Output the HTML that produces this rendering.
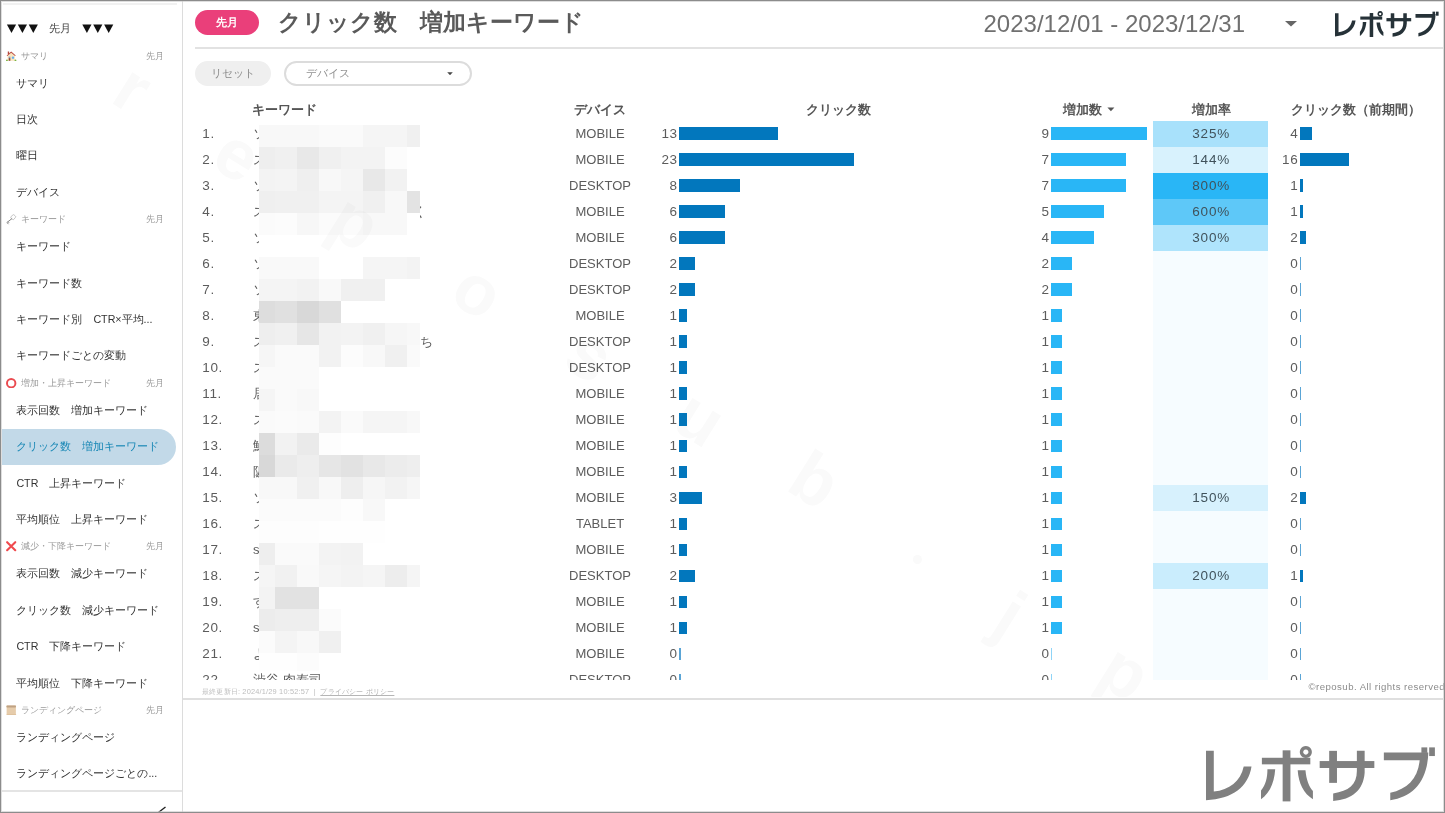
<!DOCTYPE html>
<html lang="ja"><head><meta charset="utf-8"><title>クリック数 増加キーワード</title>
<style>
*{box-sizing:border-box;margin:0;padding:0}
html,body{width:1445px;height:813px;overflow:hidden;background:#fff}
body{font-family:"Liberation Sans",sans-serif;position:relative;color:#555}
#frame{position:absolute;left:0;top:0;width:1445px;height:813px;border:1.5px solid #8c8c8c;z-index:50;pointer-events:none;box-shadow:inset 0 0 0 1px rgba(200,200,200,.6)}
.abs,.r,.r>*,.sh,.ni,.wm,#mos i{position:absolute}
/* sidebar */
#side{position:absolute;left:0;top:0;width:183px;height:813px;border-right:1px solid #dcdcdc;background:#fff;overflow:hidden}
#topline{position:absolute;left:3px;top:3px;width:174px;height:2px;background:#f1f1f1}
#tri{position:absolute;left:0;top:0}
#tm{position:absolute;left:49px;top:21px;font-size:10.8px;line-height:15px;color:#444;white-space:nowrap}
.sh{left:0;width:183px;height:18px;font-size:8.6px;line-height:18px;color:#9a9a9a;white-space:nowrap}
.sh .ic{position:absolute;left:6.4px;top:4.2px;width:10.4px;height:10.4px}
.sh .st{position:absolute;left:21.3px;top:0}
.sh .sm{position:absolute;right:19.5px;top:0}
.ni{left:2px;width:174px;height:36.4px;font-size:10.7px;line-height:36.4px;color:#333;white-space:nowrap;border-radius:0 18.2px 18.2px 0}
.ni span{position:absolute;left:14.4px;top:0}
.ni.sel{background:#c2d9e8;color:#1787b5}
#sbline{position:absolute;left:2px;top:790px;width:181px;height:1.5px;background:#e4e4e4}
/* header */
#pill{left:195px;top:10.2px;width:63.5px;height:25px;border-radius:12.5px;background:#ea3f7a;color:#fff;font-size:11px;font-weight:bold;line-height:25px;text-align:center}
#title{left:278.2px;top:6.5px;font-size:23.4px;line-height:30px;color:#5a5a5a;font-weight:bold;white-space:nowrap;letter-spacing:0}
#date{left:983.5px;top:9px;font-size:24px;line-height:30px;color:#707070;white-space:nowrap}
#hline{left:195px;top:47.3px;width:1248px;height:1.6px;background:#e2e2e2}
#reset{left:195px;top:60.8px;width:76px;height:25px;border-radius:12.5px;background:#efefef;color:#8a8a8a;font-size:10.9px;line-height:25px;text-align:center}
#dd{left:284.4px;top:60.5px;width:188px;height:25.4px;border-radius:12.7px;border:2px solid #dcdcdc;background:#fff;color:#909090;font-size:10.9px;line-height:21.4px;padding-left:19.8px}
/* table */
.th{position:absolute;top:101px;width:200px;text-align:center;font-size:12.6px;line-height:18px;font-weight:bold;color:#555;white-space:nowrap}
#tbl{position:absolute;left:183px;top:0;width:1262px;height:679.5px;overflow:hidden}
#tbl .in{position:absolute;left:-183px;top:0;width:1445px;height:813px}
.r{left:0;width:1445px;height:26px;font-size:13px;line-height:26px;color:#5c5c5c}
.r>*{top:0;height:26px;white-space:nowrap}
.n{left:202.3px;font-size:13.5px;letter-spacing:.6px}
.k{left:253px}
.k2{position:absolute;overflow:hidden;height:26px;line-height:26px;font-size:13px;color:#5c5c5c;white-space:nowrap}
.d{left:540px;width:120px;text-align:center}
.v{text-align:right;width:40px;font-size:13.5px;letter-spacing:.6px;margin-left:.6px}
.v1{left:637px} .v2{left:1009px} .v3{left:1257.7px}
.b{top:6.6px !important;height:12.5px !important;display:block}
.b1{left:679.4px;background:#0277bd}
.b2{left:1050.9px;background:#29b6f6}
.b3{left:1299.8px;background:#0277bd}
.b.z{background:#5aa5d6} .b.z2{background:#8fd4f7}
.h{left:1153.2px;width:115.1px;text-align:center;color:#40525b;font-size:13.5px;letter-spacing:.8px;text-indent:.8px}
#mos i{display:block}
.wm{font-size:70px;font-weight:bold;color:#fafafa;width:60px;height:80px;line-height:80px;text-align:center;transform:rotate(32deg)}
#foot{left:202px;top:686.3px;letter-spacing:.18px;font-size:7.4px;line-height:12px;color:#bdbdbd;white-space:nowrap}
#foot u{color:#b5b5b5}
#copy{left:1308.6px;top:680.2px;font-size:9.6px;line-height:13px;color:#8c8c8c;white-space:nowrap;letter-spacing:.45px}
#bline{left:183px;top:698.1px;width:1260px;height:1.8px;background:#dfdfdf}
</style></head><body>
<div id="wmwrap" class="abs" style="left:0;top:0;width:1445px;height:697px;overflow:hidden;z-index:20;mix-blend-mode:multiply;pointer-events:none">
<span class="wm" style="left:103px;top:48px">r</span>
<span class="wm" style="left:208px;top:115px">e</span>
<span class="wm" style="left:325px;top:182px">p</span>
<span class="wm" style="left:448px;top:251px">o</span>
<span class="wm" style="left:560px;top:315px">s</span>
<span class="wm" style="left:670px;top:378px">u</span>
<span class="wm" style="left:785px;top:440px">b</span>
<i class="abs" style="left:912.5px;top:555px;width:9px;height:9px;border-radius:50%;background:#fafafa"></i>
<span class="wm" style="left:980px;top:575px">j</span>
<span class="wm" style="left:1095px;top:632px">p</span>
</div>
<div id="side">
<div id="topline"></div>
<svg id="tri" width="183" height="45" viewBox="0 0 183 45"><g fill="#111">
<path d="M6.9 24.6h9.2l-4.6 8.4z"/><path d="M17.8 24.6h9.2l-4.6 8.4z"/><path d="M28.7 24.6h9.2l-4.6 8.4z"/>
<path d="M82.3 24.6h9.2l-4.6 8.4z"/><path d="M93.2 24.6h9.2l-4.6 8.4z"/><path d="M104.1 24.6h9.2l-4.6 8.4z"/>
</g></svg>
<div id="tm">先月</div>
<div class="sh" style="top:46.5px"><svg class="ic" viewBox="0 0 10 10"><rect x="1.7" y="0.5" width="1.3" height="2.4" fill="#b5483d"/><path d="M1.5 4.3 L5 1.4 L8.5 4.3 V9.5 H1.5 Z" fill="#fbe5be"/><path d="M0.6 4.3 L5 0.4 L9.4 4.3 L8.7 4.9 L5 1.8 L1.3 4.9 Z" fill="#b8463c"/><rect x="2.5" y="5.4" width="1.7" height="1.3" fill="#7f9fc4"/><rect x="2.6" y="6.8" width="1.6" height="2.6" fill="#8c4836"/><circle cx="6.7" cy="6.4" r="1.15" fill="#62aef0"/><ellipse cx="0.9" cy="9.1" rx="0.9" ry="0.8" fill="#7cb342"/><ellipse cx="9.1" cy="9.1" rx="0.9" ry="0.8" fill="#7cb342"/></svg><span class="st">サマリ</span><span class="sm">先月</span></div>
<div class="ni" style="top:64.5px"><span>サマリ</span></div>
<div class="ni" style="top:100.9px"><span>日次</span></div>
<div class="ni" style="top:137.3px"><span>曜日</span></div>
<div class="ni" style="top:173.7px"><span>デバイス</span></div>
<div class="sh" style="top:210.1px"><svg class="ic" viewBox="0 0 10 10"><rect x="5.2" y="0.9" width="3.6" height="4.3" rx="1" transform="rotate(40 7 3)" fill="#fff" stroke="#b5b5b5" stroke-width="0.7"/><path d="M5.9 4.3 L0.9 8.2 M0.9 8.2 L2.4 9.8 M2 7.4 L3 8.5" stroke="#808080" stroke-width="0.9" fill="none"/></svg><span class="st">キーワード</span><span class="sm">先月</span></div>
<div class="ni" style="top:228.1px"><span>キーワード</span></div>
<div class="ni" style="top:264.5px"><span>キーワード数</span></div>
<div class="ni" style="top:300.9px"><span>キーワード別　CTR×平均...</span></div>
<div class="ni" style="top:337.3px"><span>キーワードごとの変動</span></div>
<div class="sh" style="top:373.7px"><svg class="ic" viewBox="0 0 10 10"><circle cx="5" cy="5" r="4.05" fill="none" stroke="#ea4b50" stroke-width="1.9"/></svg><span class="st">増加・上昇キーワード</span><span class="sm">先月</span></div>
<div class="ni" style="top:391.7px"><span>表示回数　増加キーワード</span></div>
<div class="ni sel" style="top:428.8px"><span style="top:-0.7px">クリック数　増加キーワード</span></div>
<div class="ni" style="top:464.5px"><span>CTR　上昇キーワード</span></div>
<div class="ni" style="top:500.9px"><span>平均順位　上昇キーワード</span></div>
<div class="sh" style="top:537.3px"><svg class="ic" viewBox="0 0 10 10"><path d="M1.1 1.1 L8.9 8.9 M8.9 1.1 L1.1 8.9" stroke="#f0494d" stroke-width="2" stroke-linecap="round" fill="none"/></svg><span class="st">減少・下降キーワード</span><span class="sm">先月</span></div>
<div class="ni" style="top:555.3px"><span>表示回数　減少キーワード</span></div>
<div class="ni" style="top:591.7px"><span>クリック数　減少キーワード</span></div>
<div class="ni" style="top:628.1px"><span>CTR　下降キーワード</span></div>
<div class="ni" style="top:664.5px"><span>平均順位　下降キーワード</span></div>
<div class="sh" style="top:700.9px"><svg class="ic" viewBox="0 0 10 10"><rect x="0.6" y="0.4" width="8.9" height="9.3" rx="0.5" fill="#e6ccab"/><rect x="0.4" y="0.4" width="9.2" height="1.9" rx="0.6" fill="#bfa283"/><rect x="0.6" y="8.7" width="9.2" height="1" rx="0.4" fill="#dfc29e"/></svg><span class="st">ランディングページ</span><span class="sm">先月</span></div>
<div class="ni" style="top:718.9px"><span>ランディングページ</span></div>
<div class="ni" style="top:755.3px"><span>ランディングページごとの...</span></div>
<div id="sbline"></div>
<svg class="abs" style="left:155.5px;top:805.5px" width="12" height="11" viewBox="0 0 12 11"><path d="M9.5 1 L3 6 L8 11" stroke="#222" stroke-width="1.4" fill="none"/></svg>
</div>

<div id="pill" class="abs">先月</div>
<div id="title" class="abs">クリック数　増加キーワード</div>
<div id="date" class="abs">2023/12/01 - 2023/12/31</div>
<svg class="abs" style="left:1284px;top:19px" width="14" height="9" viewBox="0 0 14 9"><path d="M1 2h12l-6 5.6z" fill="#666"/></svg>
<svg class="abs" style="left:1335.4px;top:10.8px" width="103.6" height="26" viewBox="65 65 1323 320" preserveAspectRatio="none" fill="#263238"><path d="M65,93 H110 V328 C200,318 265,270 283,183 H328 C310,300 220,370 65,378 Z"/>
<rect x="388" y="133" width="280" height="38"/><rect x="508" y="90" width="45" height="295"/>
<path d="M420,200 H465 C460,280 430,340 383,372 V322 C410,290 420,250 420,200 Z"/>
<path d="M595,205 H640 C645,260 660,300 683,325 V372 C630,340 600,280 595,205 Z"/>
<path fill-rule="evenodd" d="M642,65 a35,35 0 1,0 0.01,0 Z M642,85 a15,15 0 1,1 -0.01,0 Z"/>
<rect x="722" y="152" width="316" height="40"/><rect x="777" y="93" width="45" height="185"/>
<path d="M937,93 H982 V220 C975,320 910,375 800,383 V340 C890,325 937,290 937,210 Z"/>
<path d="M1093,103 H1350 C1345,270 1260,360 1130,378 V335 C1230,315 1290,250 1300,148 H1093 Z"/>
<rect x="1310" y="73" width="34" height="32"/><rect x="1355" y="73" width="33" height="50"/></svg>
<div id="hline" class="abs"></div>
<div id="reset" class="abs">リセット</div>
<div id="dd" class="abs">デバイス<svg style="position:absolute;left:160.5px;top:9.2px" width="6" height="3.4" viewBox="0 0 6 3.4"><path d="M0.2 0.3h5.6L3 3.2z" fill="#444"/></svg></div>

<div class="th" style="left:184.4px">キーワード</div>
<div class="th" style="left:499.5px">デバイス</div>
<div class="th" style="left:738.4px">クリック数</div>
<div class="th" style="left:982.5px">増加数</div>
<svg class="abs" style="left:1107px;top:107.3px" width="8" height="5" viewBox="0 0 8 5"><path d="M0.4 0.5h7L3.9 4.3z" fill="#555"/></svg>
<div class="th" style="left:1111.2px">増加率</div>
<div class="th" style="left:1255.9px">クリック数（前期間）</div>

<div id="tbl"><div class="in">
<div class="r" style="top:120.55px">
<span class="n">1.</span><span class="k">ソ</span><span class="d">MOBILE</span>
<span class="v v1">13</span><i class="b b1" style="width:98.8px"></i>
<span class="v v2">9</span><i class="b b2" style="width:96.0px"></i>
<span class="h" style="background:#a8e1fb">325%</span>
<span class="v v3">4</span><i class="b b3" style="width:12.2px"></i>
</div>
<div class="r" style="top:146.58px">
<span class="n">2.</span><span class="k">ス</span><span class="d">MOBILE</span>
<span class="v v1">23</span><i class="b b1" style="width:174.8px"></i>
<span class="v v2">7</span><i class="b b2" style="width:74.7px"></i>
<span class="h" style="background:#d8f2fd">144%</span>
<span class="v v3">16</span><i class="b b3" style="width:48.8px"></i>
</div>
<div class="r" style="top:172.61px">
<span class="n">3.</span><span class="k">ソ</span><span class="d">DESKTOP</span>
<span class="v v1">8</span><i class="b b1" style="width:60.8px"></i>
<span class="v v2">7</span><i class="b b2" style="width:74.7px"></i>
<span class="h" style="background:#29b6f6">800%</span>
<span class="v v3">1</span><i class="b b3" style="width:3.0px"></i>
</div>
<div class="r" style="top:198.64px">
<span class="n">4.</span><span class="k">ス</span><span class="d">MOBILE</span>
<span class="v v1">6</span><i class="b b1" style="width:45.6px"></i>
<span class="v v2">5</span><i class="b b2" style="width:53.4px"></i>
<span class="h" style="background:#5ec8f8">600%</span>
<span class="v v3">1</span><i class="b b3" style="width:3.0px"></i>
</div>
<div class="r" style="top:224.67px">
<span class="n">5.</span><span class="k">ソ</span><span class="d">MOBILE</span>
<span class="v v1">6</span><i class="b b1" style="width:45.6px"></i>
<span class="v v2">4</span><i class="b b2" style="width:42.7px"></i>
<span class="h" style="background:#afe4fc">300%</span>
<span class="v v3">2</span><i class="b b3" style="width:6.1px"></i>
</div>
<div class="r" style="top:250.70px">
<span class="n">6.</span><span class="k">ソ</span><span class="d">DESKTOP</span>
<span class="v v1">2</span><i class="b b1" style="width:15.2px"></i>
<span class="v v2">2</span><i class="b b2" style="width:21.3px"></i>
<span class="h" style="background:#f6fcff"></span>
<span class="v v3">0</span><i class="b b3 z" style="width:1.3px"></i>
</div>
<div class="r" style="top:276.73px">
<span class="n">7.</span><span class="k">ソ</span><span class="d">DESKTOP</span>
<span class="v v1">2</span><i class="b b1" style="width:15.2px"></i>
<span class="v v2">2</span><i class="b b2" style="width:21.3px"></i>
<span class="h" style="background:#f6fcff"></span>
<span class="v v3">0</span><i class="b b3 z" style="width:1.3px"></i>
</div>
<div class="r" style="top:302.76px">
<span class="n">8.</span><span class="k">東</span><span class="d">MOBILE</span>
<span class="v v1">1</span><i class="b b1" style="width:7.6px"></i>
<span class="v v2">1</span><i class="b b2" style="width:10.7px"></i>
<span class="h" style="background:#f6fcff"></span>
<span class="v v3">0</span><i class="b b3 z" style="width:1.3px"></i>
</div>
<div class="r" style="top:328.79px">
<span class="n">9.</span><span class="k">ス</span><span class="d">DESKTOP</span>
<span class="v v1">1</span><i class="b b1" style="width:7.6px"></i>
<span class="v v2">1</span><i class="b b2" style="width:10.7px"></i>
<span class="h" style="background:#f6fcff"></span>
<span class="v v3">0</span><i class="b b3 z" style="width:1.3px"></i>
</div>
<div class="r" style="top:354.82px">
<span class="n">10.</span><span class="k">ス</span><span class="d">DESKTOP</span>
<span class="v v1">1</span><i class="b b1" style="width:7.6px"></i>
<span class="v v2">1</span><i class="b b2" style="width:10.7px"></i>
<span class="h" style="background:#f6fcff"></span>
<span class="v v3">0</span><i class="b b3 z" style="width:1.3px"></i>
</div>
<div class="r" style="top:380.85px">
<span class="n">11.</span><span class="k">居</span><span class="d">MOBILE</span>
<span class="v v1">1</span><i class="b b1" style="width:7.6px"></i>
<span class="v v2">1</span><i class="b b2" style="width:10.7px"></i>
<span class="h" style="background:#f6fcff"></span>
<span class="v v3">0</span><i class="b b3 z" style="width:1.3px"></i>
</div>
<div class="r" style="top:406.88px">
<span class="n">12.</span><span class="k">ス</span><span class="d">MOBILE</span>
<span class="v v1">1</span><i class="b b1" style="width:7.6px"></i>
<span class="v v2">1</span><i class="b b2" style="width:10.7px"></i>
<span class="h" style="background:#f6fcff"></span>
<span class="v v3">0</span><i class="b b3 z" style="width:1.3px"></i>
</div>
<div class="r" style="top:432.91px">
<span class="n">13.</span><span class="k">鮨</span><span class="d">MOBILE</span>
<span class="v v1">1</span><i class="b b1" style="width:7.6px"></i>
<span class="v v2">1</span><i class="b b2" style="width:10.7px"></i>
<span class="h" style="background:#f6fcff"></span>
<span class="v v3">0</span><i class="b b3 z" style="width:1.3px"></i>
</div>
<div class="r" style="top:458.94px">
<span class="n">14.</span><span class="k">阪</span><span class="d">MOBILE</span>
<span class="v v1">1</span><i class="b b1" style="width:7.6px"></i>
<span class="v v2">1</span><i class="b b2" style="width:10.7px"></i>
<span class="h" style="background:#f6fcff"></span>
<span class="v v3">0</span><i class="b b3 z" style="width:1.3px"></i>
</div>
<div class="r" style="top:484.97px">
<span class="n">15.</span><span class="k">ソ</span><span class="d">MOBILE</span>
<span class="v v1">3</span><i class="b b1" style="width:22.8px"></i>
<span class="v v2">1</span><i class="b b2" style="width:10.7px"></i>
<span class="h" style="background:#d7f1fd">150%</span>
<span class="v v3">2</span><i class="b b3" style="width:6.1px"></i>
</div>
<div class="r" style="top:511.00px">
<span class="n">16.</span><span class="k">ス</span><span class="d">TABLET</span>
<span class="v v1">1</span><i class="b b1" style="width:7.6px"></i>
<span class="v v2">1</span><i class="b b2" style="width:10.7px"></i>
<span class="h" style="background:#f6fcff"></span>
<span class="v v3">0</span><i class="b b3 z" style="width:1.3px"></i>
</div>
<div class="r" style="top:537.03px">
<span class="n">17.</span><span class="k">s</span><span class="d">MOBILE</span>
<span class="v v1">1</span><i class="b b1" style="width:7.6px"></i>
<span class="v v2">1</span><i class="b b2" style="width:10.7px"></i>
<span class="h" style="background:#f6fcff"></span>
<span class="v v3">0</span><i class="b b3 z" style="width:1.3px"></i>
</div>
<div class="r" style="top:563.06px">
<span class="n">18.</span><span class="k">ス</span><span class="d">DESKTOP</span>
<span class="v v1">2</span><i class="b b1" style="width:15.2px"></i>
<span class="v v2">1</span><i class="b b2" style="width:10.7px"></i>
<span class="h" style="background:#caedfd">200%</span>
<span class="v v3">1</span><i class="b b3" style="width:3.0px"></i>
</div>
<div class="r" style="top:589.09px">
<span class="n">19.</span><span class="k">す</span><span class="d">MOBILE</span>
<span class="v v1">1</span><i class="b b1" style="width:7.6px"></i>
<span class="v v2">1</span><i class="b b2" style="width:10.7px"></i>
<span class="h" style="background:#f6fcff"></span>
<span class="v v3">0</span><i class="b b3 z" style="width:1.3px"></i>
</div>
<div class="r" style="top:615.12px">
<span class="n">20.</span><span class="k">s</span><span class="d">MOBILE</span>
<span class="v v1">1</span><i class="b b1" style="width:7.6px"></i>
<span class="v v2">1</span><i class="b b2" style="width:10.7px"></i>
<span class="h" style="background:#f6fcff"></span>
<span class="v v3">0</span><i class="b b3 z" style="width:1.3px"></i>
</div>
<div class="r" style="top:641.15px">
<span class="n">21.</span><span class="k">よ</span><span class="d">MOBILE</span>
<span class="v v1">0</span><i class="b b1 z" style="width:1.3px"></i>
<span class="v v2">0</span><i class="b b2 z2" style="width:1.3px"></i>
<span class="h" style="background:#f6fcff"></span>
<span class="v v3">0</span><i class="b b3 z" style="width:1.3px"></i>
</div>
<div class="r" style="top:667.18px">
<span class="n">22.</span><span class="k">渋谷 肉寿司</span><span class="d">DESKTOP</span>
<span class="v v1">0</span><i class="b b1 z" style="width:1.3px"></i>
<span class="v v2">0</span><i class="b b2 z2" style="width:1.3px"></i>
<span class="h" style="background:#f6fcff"></span>
<span class="v v3">0</span><i class="b b3 z" style="width:1.3px"></i>
</div>
<div id="mos">
<i style="left:259px;top:125px;width:16px;height:22px;background:#f8f8f8"></i>
<i style="left:275px;top:125px;width:22px;height:22px;background:#f8f8f8"></i>
<i style="left:297px;top:125px;width:22px;height:22px;background:#f8f8f8"></i>
<i style="left:319px;top:125px;width:22px;height:22px;background:#fafafa"></i>
<i style="left:341px;top:125px;width:22px;height:22px;background:#fafafa"></i>
<i style="left:363px;top:125px;width:22px;height:22px;background:#f5f5f5"></i>
<i style="left:385px;top:125px;width:22px;height:22px;background:#f5f5f5"></i>
<i style="left:407px;top:125px;width:13px;height:22px;background:#f0f0f0"></i>
<i style="left:259px;top:147px;width:16px;height:22px;background:#eeeeee"></i>
<i style="left:275px;top:147px;width:22px;height:22px;background:#f0f0f0"></i>
<i style="left:297px;top:147px;width:22px;height:22px;background:#e8e8e8"></i>
<i style="left:319px;top:147px;width:22px;height:22px;background:#f0f0f0"></i>
<i style="left:341px;top:147px;width:22px;height:22px;background:#f3f3f3"></i>
<i style="left:363px;top:147px;width:22px;height:22px;background:#f3f3f3"></i>
<i style="left:385px;top:147px;width:22px;height:22px;background:#fcfcfc"></i>
<i style="left:259px;top:169px;width:16px;height:22px;background:#f3f3f3"></i>
<i style="left:275px;top:169px;width:22px;height:22px;background:#f4f4f4"></i>
<i style="left:297px;top:169px;width:22px;height:22px;background:#efefef"></i>
<i style="left:319px;top:169px;width:22px;height:22px;background:#f8f8f8"></i>
<i style="left:341px;top:169px;width:22px;height:22px;background:#f5f5f5"></i>
<i style="left:363px;top:169px;width:22px;height:22px;background:#e8e8e8"></i>
<i style="left:385px;top:169px;width:22px;height:22px;background:#f2f2f2"></i>
<i style="left:259px;top:191px;width:16px;height:22px;background:#efefef"></i>
<i style="left:275px;top:191px;width:22px;height:22px;background:#f0f0f0"></i>
<i style="left:297px;top:191px;width:22px;height:22px;background:#f0f0f0"></i>
<i style="left:319px;top:191px;width:22px;height:22px;background:#f4f4f4"></i>
<i style="left:341px;top:191px;width:22px;height:22px;background:#f4f4f4"></i>
<i style="left:363px;top:191px;width:22px;height:22px;background:#f0f0f0"></i>
<i style="left:385px;top:191px;width:22px;height:22px;background:#f8f8f8"></i>
<i style="left:407px;top:191px;width:13px;height:22px;background:#e3e3e3"></i>
<i style="left:259px;top:213px;width:16px;height:22px;background:#fbfbfb"></i>
<i style="left:275px;top:213px;width:22px;height:22px;background:#fcfcfc"></i>
<i style="left:297px;top:213px;width:22px;height:22px;background:#f7f7f7"></i>
<i style="left:319px;top:213px;width:22px;height:22px;background:#fbfbfb"></i>
<i style="left:341px;top:213px;width:22px;height:22px;background:#fbfbfb"></i>
<i style="left:363px;top:213px;width:22px;height:22px;background:#f8f8f8"></i>
<i style="left:385px;top:213px;width:22px;height:22px;background:#f8f8f8"></i>
<i style="left:259px;top:235px;width:16px;height:22px;background:#ffffff"></i>
<i style="left:275px;top:235px;width:22px;height:22px;background:#ffffff"></i>
<i style="left:297px;top:235px;width:22px;height:22px;background:#ffffff"></i>
<i style="left:319px;top:235px;width:22px;height:22px;background:#ffffff"></i>
<i style="left:341px;top:235px;width:22px;height:22px;background:#ffffff"></i>
<i style="left:363px;top:235px;width:22px;height:22px;background:#ffffff"></i>
<i style="left:385px;top:235px;width:22px;height:22px;background:#ffffff"></i>
<i style="left:407px;top:235px;width:13px;height:22px;background:#ffffff"></i>
<i style="left:259px;top:257px;width:16px;height:22px;background:#f9f9f9"></i>
<i style="left:275px;top:257px;width:22px;height:22px;background:#f9f9f9"></i>
<i style="left:297px;top:257px;width:22px;height:22px;background:#f9f9f9"></i>
<i style="left:319px;top:257px;width:22px;height:22px;background:#ffffff"></i>
<i style="left:341px;top:257px;width:22px;height:22px;background:#ffffff"></i>
<i style="left:363px;top:257px;width:22px;height:22px;background:#f5f5f5"></i>
<i style="left:385px;top:257px;width:22px;height:22px;background:#f5f5f5"></i>
<i style="left:407px;top:257px;width:13px;height:22px;background:#f3f3f3"></i>
<i style="left:259px;top:279px;width:16px;height:22px;background:#f4f4f4"></i>
<i style="left:275px;top:279px;width:22px;height:22px;background:#f4f4f4"></i>
<i style="left:297px;top:279px;width:22px;height:22px;background:#f2f2f2"></i>
<i style="left:319px;top:279px;width:22px;height:22px;background:#f9f9f9"></i>
<i style="left:341px;top:279px;width:22px;height:22px;background:#f0f0f0"></i>
<i style="left:363px;top:279px;width:22px;height:22px;background:#f0f0f0"></i>
<i style="left:259px;top:301px;width:16px;height:22px;background:#dddddd"></i>
<i style="left:275px;top:301px;width:22px;height:22px;background:#e0e0e0"></i>
<i style="left:297px;top:301px;width:22px;height:22px;background:#d8d8d8"></i>
<i style="left:319px;top:301px;width:22px;height:22px;background:#e0e0e0"></i>
<i style="left:259px;top:323px;width:16px;height:22px;background:#eeeeee"></i>
<i style="left:275px;top:323px;width:22px;height:22px;background:#f0f0f0"></i>
<i style="left:297px;top:323px;width:22px;height:22px;background:#e6e6e6"></i>
<i style="left:319px;top:323px;width:22px;height:22px;background:#f2f2f2"></i>
<i style="left:341px;top:323px;width:22px;height:22px;background:#f3f3f3"></i>
<i style="left:363px;top:323px;width:22px;height:22px;background:#f0f0f0"></i>
<i style="left:385px;top:323px;width:22px;height:22px;background:#f6f6f6"></i>
<i style="left:407px;top:323px;width:13px;height:22px;background:#f8f8f8"></i>
<i style="left:259px;top:345px;width:16px;height:22px;background:#f6f6f6"></i>
<i style="left:275px;top:345px;width:22px;height:22px;background:#fafafa"></i>
<i style="left:297px;top:345px;width:22px;height:22px;background:#fafafa"></i>
<i style="left:319px;top:345px;width:22px;height:22px;background:#f2f2f2"></i>
<i style="left:341px;top:345px;width:22px;height:22px;background:#fcfcfc"></i>
<i style="left:363px;top:345px;width:22px;height:22px;background:#f8f8f8"></i>
<i style="left:385px;top:345px;width:22px;height:22px;background:#f0f0f0"></i>
<i style="left:407px;top:345px;width:13px;height:22px;background:#fafafa"></i>
<i style="left:259px;top:367px;width:16px;height:22px;background:#fafafa"></i>
<i style="left:275px;top:367px;width:22px;height:22px;background:#fafafa"></i>
<i style="left:297px;top:367px;width:22px;height:22px;background:#fafafa"></i>
<i style="left:259px;top:389px;width:16px;height:22px;background:#f5f5f5"></i>
<i style="left:275px;top:389px;width:22px;height:22px;background:#fafafa"></i>
<i style="left:297px;top:389px;width:22px;height:22px;background:#f8f8f8"></i>
<i style="left:259px;top:411px;width:16px;height:22px;background:#fafafa"></i>
<i style="left:275px;top:411px;width:22px;height:22px;background:#fbfbfb"></i>
<i style="left:297px;top:411px;width:22px;height:22px;background:#fafafa"></i>
<i style="left:319px;top:411px;width:22px;height:22px;background:#f3f3f3"></i>
<i style="left:341px;top:411px;width:22px;height:22px;background:#fafafa"></i>
<i style="left:363px;top:411px;width:22px;height:22px;background:#f5f5f5"></i>
<i style="left:385px;top:411px;width:22px;height:22px;background:#f5f5f5"></i>
<i style="left:407px;top:411px;width:13px;height:22px;background:#f8f8f8"></i>
<i style="left:259px;top:433px;width:16px;height:22px;background:#dcdcdc"></i>
<i style="left:275px;top:433px;width:22px;height:22px;background:#f2f2f2"></i>
<i style="left:297px;top:433px;width:22px;height:22px;background:#eaeaea"></i>
<i style="left:319px;top:433px;width:22px;height:22px;background:#fdfdfd"></i>
<i style="left:259px;top:455px;width:16px;height:22px;background:#d8d8d8"></i>
<i style="left:275px;top:455px;width:22px;height:22px;background:#eaeaea"></i>
<i style="left:297px;top:455px;width:22px;height:22px;background:#eeeeee"></i>
<i style="left:319px;top:455px;width:22px;height:22px;background:#e6e6e6"></i>
<i style="left:341px;top:455px;width:22px;height:22px;background:#e2e2e2"></i>
<i style="left:363px;top:455px;width:22px;height:22px;background:#e8e8e8"></i>
<i style="left:385px;top:455px;width:22px;height:22px;background:#ececec"></i>
<i style="left:407px;top:455px;width:13px;height:22px;background:#eeeeee"></i>
<i style="left:259px;top:477px;width:16px;height:22px;background:#f8f8f8"></i>
<i style="left:275px;top:477px;width:22px;height:22px;background:#f8f8f8"></i>
<i style="left:297px;top:477px;width:22px;height:22px;background:#f0f0f0"></i>
<i style="left:319px;top:477px;width:22px;height:22px;background:#f8f8f8"></i>
<i style="left:341px;top:477px;width:22px;height:22px;background:#eeeeee"></i>
<i style="left:363px;top:477px;width:22px;height:22px;background:#f6f6f6"></i>
<i style="left:385px;top:477px;width:22px;height:22px;background:#f2f2f2"></i>
<i style="left:407px;top:477px;width:13px;height:22px;background:#f6f6f6"></i>
<i style="left:259px;top:499px;width:16px;height:22px;background:#fbfbfb"></i>
<i style="left:275px;top:499px;width:22px;height:22px;background:#fbfbfb"></i>
<i style="left:297px;top:499px;width:22px;height:22px;background:#fbfbfb"></i>
<i style="left:319px;top:499px;width:22px;height:22px;background:#fbfbfb"></i>
<i style="left:341px;top:499px;width:22px;height:22px;background:#fdfdfd"></i>
<i style="left:363px;top:499px;width:22px;height:22px;background:#f8f8f8"></i>
<i style="left:259px;top:521px;width:16px;height:22px;background:#fdfdfd"></i>
<i style="left:275px;top:521px;width:22px;height:22px;background:#fdfdfd"></i>
<i style="left:297px;top:521px;width:22px;height:22px;background:#fdfdfd"></i>
<i style="left:319px;top:521px;width:22px;height:22px;background:#fefefe"></i>
<i style="left:341px;top:521px;width:22px;height:22px;background:#fefefe"></i>
<i style="left:363px;top:521px;width:22px;height:22px;background:#fefefe"></i>
<i style="left:259px;top:543px;width:16px;height:22px;background:#eeeeee"></i>
<i style="left:275px;top:543px;width:22px;height:22px;background:#fafafa"></i>
<i style="left:297px;top:543px;width:22px;height:22px;background:#fafafa"></i>
<i style="left:319px;top:543px;width:22px;height:22px;background:#f3f3f3"></i>
<i style="left:341px;top:543px;width:22px;height:22px;background:#f2f2f2"></i>
<i style="left:259px;top:565px;width:16px;height:22px;background:#f5f5f5"></i>
<i style="left:275px;top:565px;width:22px;height:22px;background:#f1f1f1"></i>
<i style="left:297px;top:565px;width:22px;height:22px;background:#f9f9f9"></i>
<i style="left:319px;top:565px;width:22px;height:22px;background:#f5f5f5"></i>
<i style="left:341px;top:565px;width:22px;height:22px;background:#f3f3f3"></i>
<i style="left:363px;top:565px;width:22px;height:22px;background:#f5f5f5"></i>
<i style="left:385px;top:565px;width:22px;height:22px;background:#ededed"></i>
<i style="left:407px;top:565px;width:13px;height:22px;background:#f5f5f5"></i>
<i style="left:259px;top:587px;width:16px;height:22px;background:#f3f3f3"></i>
<i style="left:275px;top:587px;width:22px;height:22px;background:#e2e2e2"></i>
<i style="left:297px;top:587px;width:22px;height:22px;background:#e2e2e2"></i>
<i style="left:259px;top:609px;width:16px;height:22px;background:#ececec"></i>
<i style="left:275px;top:609px;width:22px;height:22px;background:#eeeeee"></i>
<i style="left:297px;top:609px;width:22px;height:22px;background:#eeeeee"></i>
<i style="left:319px;top:609px;width:22px;height:22px;background:#fbfbfb"></i>
<i style="left:259px;top:631px;width:16px;height:22px;background:#fbfbfb"></i>
<i style="left:275px;top:631px;width:22px;height:22px;background:#f4f4f4"></i>
<i style="left:297px;top:631px;width:22px;height:22px;background:#f8f8f8"></i>
<i style="left:319px;top:631px;width:22px;height:22px;background:#f0f0f0"></i>
<i style="left:259px;top:653px;width:16px;height:18px;background:#fefefe"></i>
<i style="left:275px;top:653px;width:22px;height:18px;background:#fefefe"></i>
<i style="left:297px;top:653px;width:22px;height:18px;background:#fcfcfc"></i>
</div>
<span class="k2" style="left:420px;top:198.64px;width:6px"><span style="position:relative;left:-7px">く</span></span>
<span class="k2" style="left:419.5px;top:328.79px;width:14px">ち</span>
</div></div>

<div id="foot" class="abs">最終更新日: 2024/1/29 10:52:57 &nbsp;|&nbsp; <u>プライバシー ポリシー</u></div>
<div id="copy" class="abs">©reposub. All rights reserved</div>
<div id="bline" class="abs"></div>
<svg class="abs" style="left:1206.2px;top:746.2px" width="228.9" height="55.4" viewBox="65 65 1323 320" preserveAspectRatio="none" fill="#808080"><path d="M65,93 H110 V328 C200,318 265,270 283,183 H328 C310,300 220,370 65,378 Z"/>
<rect x="388" y="133" width="280" height="38"/><rect x="508" y="90" width="45" height="295"/>
<path d="M420,200 H465 C460,280 430,340 383,372 V322 C410,290 420,250 420,200 Z"/>
<path d="M595,205 H640 C645,260 660,300 683,325 V372 C630,340 600,280 595,205 Z"/>
<path fill-rule="evenodd" d="M642,65 a35,35 0 1,0 0.01,0 Z M642,85 a15,15 0 1,1 -0.01,0 Z"/>
<rect x="722" y="152" width="316" height="40"/><rect x="777" y="93" width="45" height="185"/>
<path d="M937,93 H982 V220 C975,320 910,375 800,383 V340 C890,325 937,290 937,210 Z"/>
<path d="M1093,103 H1350 C1345,270 1260,360 1130,378 V335 C1230,315 1290,250 1300,148 H1093 Z"/>
<rect x="1310" y="73" width="34" height="32"/><rect x="1355" y="73" width="33" height="50"/></svg>
<div id="frame"></div>
</body></html>
